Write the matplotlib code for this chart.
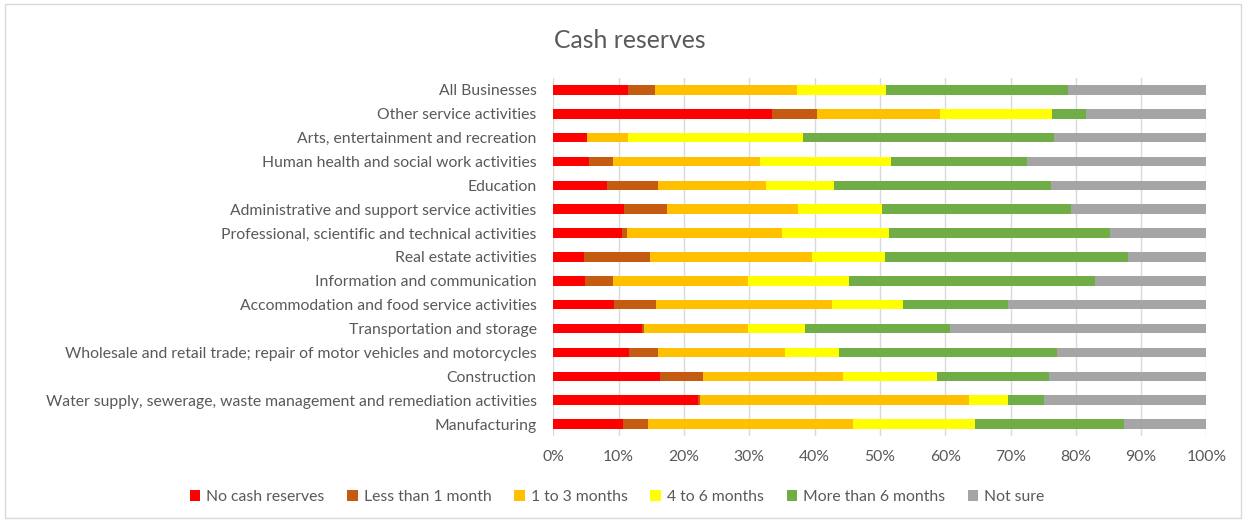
import numpy as np
import matplotlib
matplotlib.use("Agg")
import matplotlib.pyplot as plt
from matplotlib.patches import Rectangle

plt.rcParams['font.family'] = ['Lato', 'DejaVu Sans']

# categories, top to bottom as in the chart
sectors = [
    "All Businesses",
    "Other service activities",
    "Arts, entertainment and recreation",
    "Human health and social work activities",
    "Education",
    "Administrative and support service activities",
    "Professional, scientific and technical activities",
    "Real estate activities",
    "Information and communication",
    "Accommodation and food service activities",
    "Transportation and storage",
    "Wholesale and retail trade; repair of motor vehicles and motorcycles",
    "Construction",
    "Water supply, sewerage, waste management and remediation activities",
    "Manufacturing",
]

series_names = ["No cash reserves", "Less than 1 month", "1 to 3 months",
                "4 to 6 months", "More than 6 months", "Not sure"]

# shares (%) per sector, same order as sectors
no_cash = [11.4, 33.5, 5.2, 5.5, 8.2, 10.8, 10.5, 4.7, 4.9, 9.3, 13.6, 11.6, 16.3, 22.1, 10.7]
less_1m = [4.2, 6.8, 0.0, 3.7, 7.8, 6.6, 0.8, 10.1, 4.3, 6.4, 0.3, 4.4, 6.6, 0.3, 3.8]
m1_3 = [21.7, 18.9, 6.3, 22.4, 16.5, 20.0, 23.7, 24.8, 20.6, 27.0, 15.9, 19.4, 21.4, 41.3, 31.4]
m4_6 = [13.6, 17.1, 26.8, 20.1, 10.4, 13.0, 16.4, 11.2, 15.4, 10.9, 8.7, 8.3, 14.4, 5.9, 18.6]
more_6m = [27.9, 5.2, 38.3, 20.8, 33.3, 28.8, 33.8, 37.2, 37.7, 16.0, 22.3, 33.4, 17.2, 5.5, 22.9]
not_sure = [21.2, 18.5, 23.4, 27.5, 23.8, 20.8, 14.8, 12.0, 17.1, 30.4, 39.2, 22.9, 24.1, 24.9, 12.6]

colors = ["#FF0000", "#C55A11", "#FFC000", "#FFFF00", "#70AD47", "#A5A5A5"]
text_col = "#595959"

fig = plt.figure(figsize=(12.47, 5.22), dpi=100)
ax = fig.add_axes([0.4437, 0.1648, 0.5238, 0.6858])

data = np.array([no_cash, less_1m, m1_3, m4_6, more_6m, not_sure])
data = data / data.sum(axis=0) * 100  # 100% stacked
y = np.arange(len(sectors))
left = np.zeros(len(sectors))
for vals, name, c in zip(data, series_names, colors):
    ax.barh(y, vals, left=left, height=0.4, color=c, label=name, zorder=3)
    left += vals

ax.set_ylim(len(sectors) - 0.5, -0.5)
ax.set_xlim(0, 100)
ax.set_xticks(np.arange(0, 101, 10))
ax.set_xticklabels([f"{v}%" for v in range(0, 101, 10)])
ax.set_yticks(y)
ax.set_yticklabels(sectors)
ax.tick_params(axis='both', length=0, labelsize=11.3, colors=text_col)
ax.tick_params(axis='y', pad=12)
ax.tick_params(axis='x', pad=10)
ax.grid(axis='x', color="#D9D9D9", linewidth=1, zorder=0)
for s in ax.spines.values():
    s.set_visible(False)

fig.suptitle("Cash reserves", x=0.505, y=0.945, fontsize=17.8, color=text_col)

fig.legend(loc='center', bbox_to_anchor=(0.495, 0.048), ncol=6, frameon=False,
           fontsize=11.3, labelcolor=text_col, handlelength=0.65, handleheight=0.65,
           handletextpad=0.4, columnspacing=1.45)

fig.patches.append(Rectangle((0.004, 0.008), 0.991, 0.984, transform=fig.transFigure,
                             fill=False, edgecolor="#D9D9D9", linewidth=1))

fig.savefig("out.png", dpi=100, facecolor="white")
